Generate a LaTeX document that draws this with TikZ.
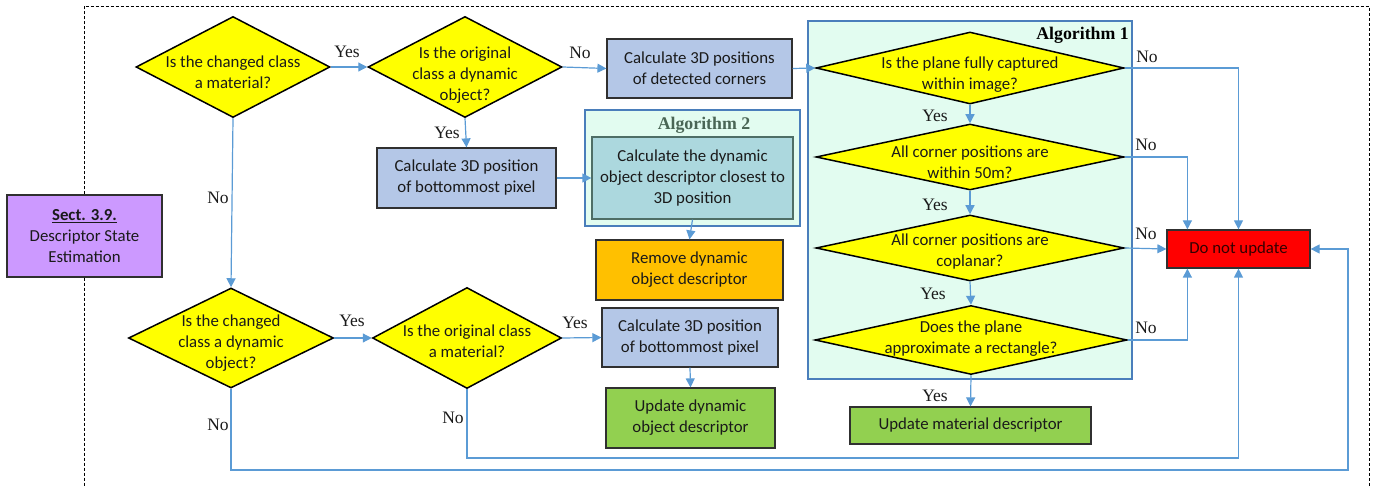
\documentclass[tikz,border=0pt]{standalone}
\usepackage{fontspec}
\setmainfont{Carlito}
\newfontfamily\labfont{Liberation Serif}
\usetikzlibrary{arrows.meta,shapes.geometric,calc}
\definecolor{dyellow}{HTML}{FFFF00}
\definecolor{bluebox}{HTML}{B4C7E7}
\definecolor{boxborder}{HTML}{303030}
\definecolor{purp}{HTML}{CC99FF}
\definecolor{orangebox}{HTML}{FFC000}
\definecolor{greenbox}{HTML}{92D050}
\definecolor{redbox}{HTML}{FF0000}
\definecolor{mint}{HTML}{E2FCF0}
\definecolor{algborder}{HTML}{4A7EBB}
\definecolor{tealbox}{HTML}{ACD8DE}
\definecolor{tealborder}{HTML}{4E6E66}
\definecolor{arrowc}{HTML}{5B9BD5}
\definecolor{txtc}{HTML}{1A1A1A}
\definecolor{alg2c}{HTML}{4A6655}
\begin{document}
\begin{tikzpicture}[x=1pt,y=-1pt,
  txt/.style={font=\fontsize{16.8}{21}\selectfont, align=center, text=txtc, inner sep=0pt},
  dia/.style={diamond, draw=black, line width=1.5pt, fill=dyellow, inner sep=0pt},
  box/.style={rectangle, draw=boxborder, line width=1.2pt, inner sep=0pt, txt},
  algbox/.style={rectangle, draw=algborder, line width=2pt, fill=mint, inner sep=0pt},
  flow/.style={draw=arrowc, line width=1.2pt, -{Triangle[length=9pt,width=9pt]}},
  yn/.style={font=\labfont\fontsize{17.5}{20}\selectfont, text=txtc, inner sep=0pt},
  algt/.style={font=\labfont\bfseries\fontsize{17.8}{20}\selectfont, inner sep=0pt}
]
\useasboundingbox (0,0) rectangle (1385,486);

% dashed frame
\coordinate (ftl) at (84,6);
\coordinate (ftr) at (1369,6);
\coordinate (fbl) at (84,486);
\coordinate (fbr) at (1369,486);

% algorithm containers
\node[algbox, minimum width=324pt, minimum height=358pt] (alg1) at (970,200) {};
\node[algt, anchor=east] (alg1t) at (1129,35) {Algorithm 1};
\node[algbox, minimum width=215pt, minimum height=116pt] (alg2) at (692,168) {};
\node[algt, text=alg2c] (alg2t) at (704,125) {Algorithm 2};

% section box
\node[box, fill=purp, minimum width=155pt, minimum height=82pt] (sect) at (84.5,236)
  {\textbf{\underline{Sect. 3.9.}}\\Descriptor State\\Estimation};

\draw[dashed, line width=0.8pt, dash pattern=on 3pt off 2pt] (sect.north -| ftl) -- (ftl) -- (ftr) -- (fbr);
\draw[dashed, line width=0.8pt, dash pattern=on 3pt off 2pt] (sect.south -| fbl) -- (fbl);

% diamonds
\node[dia, minimum width=194pt, minimum height=101pt] (d1) at (233,67) {};
\node[txt, yshift=-5pt] (d1t) at (d1) {Is the changed class\\a material?};
\node[dia, minimum width=194pt, minimum height=101pt] (d2) at (465,67) {};
\node[txt, yshift=-8pt] (d2t) at (d2) {Is the original\\class a dynamic\\object?};
\node[dia, minimum width=205pt, minimum height=100pt] (d3) at (231,338) {};
\node[txt, yshift=-5pt] (d3t) at (d3) {Is the changed\\class a dynamic\\object?};
\node[dia, minimum width=189pt, minimum height=101pt] (d4) at (467,338) {};
\node[txt, yshift=-3pt] (d4t) at (d4) {Is the original class\\a material?};

\node[dia, minimum width=308pt, minimum height=72pt] (a1) at (970,68) {};
\node[txt, yshift=-7pt] (a1t) at (a1) {Is the plane fully captured\\within image?};
\node[dia, minimum width=308pt, minimum height=66pt] (a2) at (970,157) {};
\node[txt, yshift=-5pt] (a2t) at (a2) {All corner positions are\\within 50m?};
\node[dia, minimum width=308pt, minimum height=66pt] (a3) at (970,248) {};
\node[txt, yshift=-4pt] (a3t) at (a3) {All corner positions are\\coplanar?};
\node[dia, minimum width=312pt, minimum height=69pt] (a4) at (971,340) {};
\node[txt, yshift=1pt] (a4t) at (a4) {Does the plane\\approximate a rectangle?};

% boxes
\node[box, fill=bluebox, minimum width=185pt, minimum height=59pt] (b1) at (699.5,68.5) {Calculate 3D positions\\of detected corners};
\node[box, fill=bluebox, minimum width=179pt, minimum height=60pt] (b2) at (466.5,178) {Calculate 3D position\\of bottommost pixel};
\node[box, fill=tealbox, draw=tealborder, minimum width=201pt, minimum height=82pt] (inner) at (692.5,178) {Calculate the dynamic\\object descriptor closest to\\3D position};
\node[box, fill=orangebox, minimum width=187pt, minimum height=60pt] (remove) at (689.5,270) {Remove dynamic\\object descriptor};
\node[box, fill=bluebox, minimum width=176pt, minimum height=59pt] (b3) at (690,337.5) {Calculate 3D position\\of bottommost pixel};
\node[box, fill=greenbox, minimum width=169pt, minimum height=60pt] (upddyn) at (690.5,418) {Update dynamic\\object descriptor};
\node[box, fill=greenbox, minimum width=241pt, minimum height=37pt] (updmat) at (970.5,425.5) {Update material descriptor};
\node[box, fill=redbox, text=black!80!red, minimum width=143pt, minimum height=38pt] (dnu) at (1238.5,249) {Do not update};

% connectors
\draw[flow] (d1.east) -- (d2.west);
\node[yn] (l1) at (347,52) {Yes};
\draw[flow] (d2.east) -- (b1.west);
\node[yn] (l2) at (580,53) {No};
\draw[flow] (d2.south) -- (b2.north);
\node[yn] (l3) at (447,133) {Yes};
\draw[flow] (b2.east) -- (inner.west);
\draw[flow] (inner.south) -- (remove.north);
\draw[flow] (b1.east) -- (a1.west);
\draw[flow] (a1.south) -- (a2.north);
\node[yn] (l4) at (935,116) {Yes};
\draw[flow] (a2.south) -- (a3.north);
\node[yn] (l5) at (935,205) {Yes};
\draw[flow] (a3.south) -- (a4.north);
\node[yn] (l6) at (933,294) {Yes};
\draw[flow] (a4.south) -- (updmat.north);
\node[yn] (l7) at (935,396) {Yes};

\draw[flow] (a1.east) -| (dnu.north);
\node[yn] (l8) at (1147,57) {No};
\draw[flow] (a2.east) -| ([xshift=21pt]dnu.north west);
\node[yn] (l9) at (1146,145) {No};
\draw[flow] (a3.east) -- (dnu.west);
\node[yn] (l10) at (1146,234) {No};
\draw[flow] (a4.east) -| ([xshift=21pt]dnu.south west);
\node[yn] (l11) at (1146,328) {No};

\draw[flow] (d1.south) -- (d3.north);
\node[yn] (l12) at (218,198) {No};
\draw[flow] (d3.east) -- (d4.west);
\node[yn] (l13) at (352,321) {Yes};
\draw[flow] (d4.east) -- (b3.west);
\node[yn] (l14) at (575,323) {Yes};
\draw[flow] (b3.south) -- (upddyn.north);

\coordinate (loop1) at (1238.5,458);
\draw[flow] (d4.south) |- (loop1) -- (dnu.south);
\node[yn] (l15) at (453,418) {No};
\coordinate (loop2) at (1348,470);
\draw[flow] (d3.south) |- (loop2) |- (dnu.east);
\node[yn] (l16) at (218,425) {No};
\end{tikzpicture}
\end{document}
